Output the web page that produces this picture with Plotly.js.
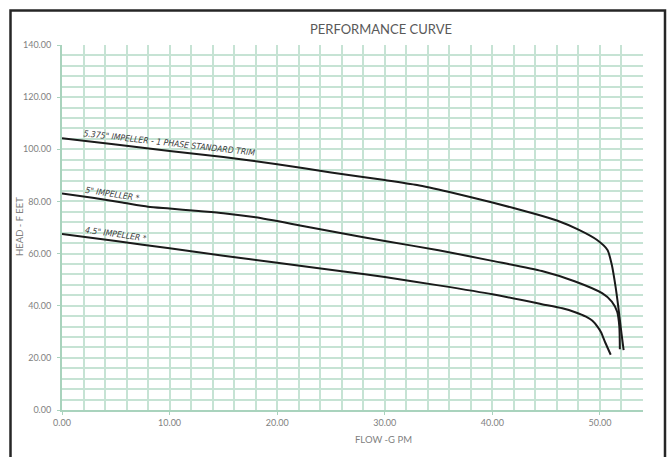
<!DOCTYPE html>
<html>
<head>
<meta charset="utf-8">
<script src="https://cdn.plot.ly/plotly-3.0.1.min.js"></script>
<style>
html,body{margin:0;padding:0;background:#fff;}
#chart{width:672px;height:457px;}
</style>
</head>
<body>
<div id="chart"></div>
<script>
// Data
const flow1 = [0, 5, 10, 15, 20, 25, 30, 33, 36, 40, 44, 46, 48, 49.7, 50.7, 51.1, 51.45, 51.7, 52.0, 52.2];
const head1 = [104.2, 101.8, 99.3, 97.0, 94.3, 91.1, 88.2, 86.3, 83.6, 79.6, 75.2, 72.7, 69.2, 65.3, 61.4, 55.7, 47.3, 39.7, 29.4, 23.0];

const flow2 = [0, 3, 5.6, 8, 10, 12.4, 15, 18, 22, 26, 30, 35, 40, 44.6, 47.7, 50.2, 51.1, 51.6, 51.8, 51.85];
const head2 = [83.0, 81.3, 79.6, 78.0, 77.3, 76.4, 75.5, 73.9, 70.9, 67.8, 64.8, 61.3, 57.2, 53.3, 49.3, 44.8, 41.6, 37.7, 32.0, 23.3];

const flow3 = [0, 5, 10, 15, 20, 26, 30, 35, 40, 44.6, 46.5, 47.7, 48.7, 49.3, 49.8, 50.1, 50.5, 51.0];
const head3 = [67.5, 64.8, 62.0, 59.2, 56.5, 53.2, 51.0, 47.8, 44.4, 40.6, 39.0, 37.5, 35.8, 34.2, 31.8, 29.8, 25.8, 21.2];

const seriesNames = ['5.375" IMPELLER - 1 PHASE STANDARD TRIM', '5" IMPELLER *', '4.5" IMPELLER *'];
const chartTitle = 'PERFORMANCE CURVE';
const xTitle = 'FLOW -G PM';
const yTitle = 'HEAD - F EET';
const xTickVals = [0, 10, 20, 30, 40, 50];
const yTickVals = [0, 20, 40, 60, 80, 100, 120, 140];

const gridCol = '#c6e3d4';
const axisCol = '#a9d3bd';
const txtCol = '#7f7f7f';
const baseFont = 'Lato, "Open Sans", sans-serif';
const labelFont = '"Liberation Sans Narrow", "DejaVu Sans Condensed", "Roboto", sans-serif';

function curve(x, y, name) {
  return {x: x, y: y, name: name, type: 'scatter', mode: 'lines',
    line: {color: '#1a1a1a', width: 2, shape: 'spline', smoothing: 0.6},
    hoverinfo: 'skip', showlegend: false};
}

const data = [
  curve(flow1, head1, seriesNames[0]),
  curve(flow2, head2, seriesNames[1]),
  curve(flow3, head3, seriesNames[2])
];

const layout = {
  width: 672, height: 457,
  margin: {l: 62, r: 29, t: 45, b: 47, pad: 0},
  paper_bgcolor: '#ffffff', plot_bgcolor: '#ffffff',
  showlegend: false,
  title: {text: chartTitle, x: 381/672, xref: 'container', xanchor: 'center',
          y: 1 - 29/457, yref: 'container', yanchor: 'middle',
          font: {family: baseFont, size: 13, color: '#595959'}},
  xaxis: {
    range: [0, 54], tickmode: 'array', tickvals: xTickVals, tickformat: '.2f',
    showgrid: true, gridcolor: gridCol, gridwidth: 2,
    minor: {dtick: 2, tick0: 0, showgrid: true, gridcolor: gridCol, gridwidth: 2},
    showline: true, linecolor: axisCol, linewidth: 2,
    ticks: 'outside', ticklen: 3, tickcolor: axisCol,
    zeroline: false,
    tickfont: {family: baseFont, size: 9, color: txtCol},
    fixedrange: true
  },
  yaxis: {
    range: [0, 140], tickmode: 'array', tickvals: yTickVals, tickformat: '.2f',
    showgrid: true, gridcolor: gridCol, gridwidth: 2,
    minor: {dtick: 4, tick0: 0, showgrid: true, gridcolor: gridCol, gridwidth: 2},
    showline: true, linecolor: axisCol, linewidth: 2,
    ticks: 'outside', ticklen: 3, tickcolor: axisCol,
    zeroline: false,
    tickfont: {family: baseFont, size: 9, color: txtCol},
    ticklabelstandoff: 4,
    fixedrange: true
  },
  annotations: [
    {text: seriesNames[0], x: 10.0, y: 102.4, xref: 'x', yref: 'y', showarrow: false,
     textangle: 6.5, font: {family: labelFont, size: 8.6, color: '#404040', style: 'italic'}},
    {text: seriesNames[1], x: 4.7, y: 82.7, xref: 'x', yref: 'y', showarrow: false,
     textangle: 9, font: {family: labelFont, size: 8.6, color: '#404040', style: 'italic'}},
    {text: seriesNames[2], x: 5.0, y: 67.7, xref: 'x', yref: 'y', showarrow: false,
     textangle: 8, font: {family: labelFont, size: 8.6, color: '#404040', style: 'italic'}},
    {text: xTitle, x: (383 - 62)/581, y: (410 - 440)/365, xref: 'paper', yref: 'paper', showarrow: false,
     xanchor: 'center', yanchor: 'middle', font: {family: baseFont, size: 9.5, color: txtCol}},
    {text: yTitle, x: (20 - 62)/581, y: (410 - 227)/365, xref: 'paper', yref: 'paper', showarrow: false,
     xanchor: 'center', yanchor: 'middle', textangle: -90, font: {family: baseFont, size: 9.5, color: txtCol}}
  ],
  shapes: [
    {type: 'rect', xref: 'paper', yref: 'paper',
     x0: (10.5 - 62)/581, x1: (665 - 62)/581, y0: (410 - 475)/365, y1: (410 - 10.5)/365,
     line: {color: '#262626', width: 2.5}, fillcolor: 'rgba(0,0,0,0)', layer: 'above'}
  ]
};

Plotly.newPlot('chart', data, layout, {displayModeBar: false, staticPlot: true});
</script>
</body>
</html>
